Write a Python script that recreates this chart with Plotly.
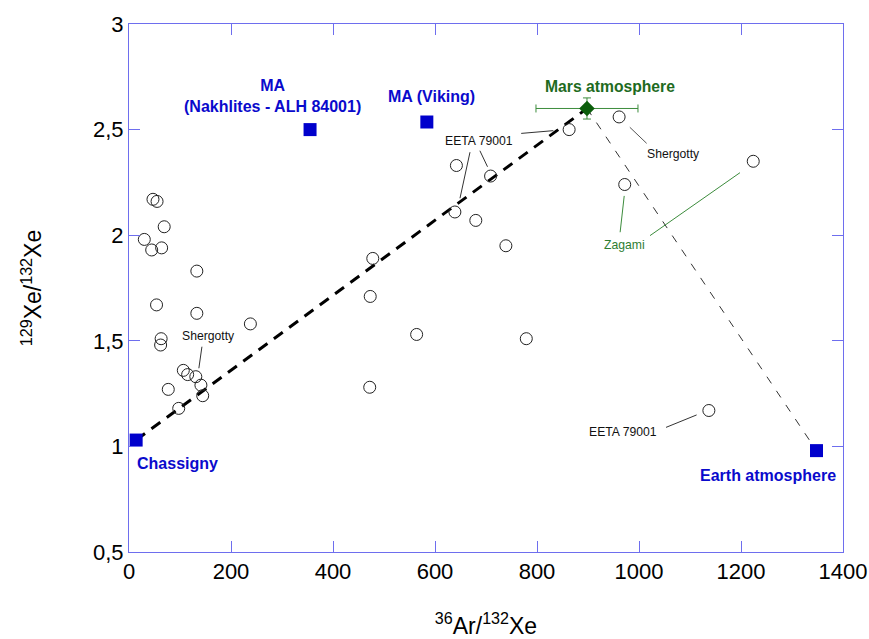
import plotly.graph_objects as go

# ---- data ----
meteorite_x = [47, 55, 69, 30, 44.5, 64, 133, 54, 133, 238, 63, 62, 106.5, 115, 131, 141, 144.5, 77, 97.5,
               863, 642, 709, 639, 680, 739, 478, 473, 564, 779, 472,
               961, 972, 1224, 1137]
meteorite_y = [2.17, 2.16, 2.04, 1.98, 1.93, 1.94, 1.83, 1.67, 1.63, 1.58, 1.51, 1.48, 1.36, 1.34, 1.33, 1.29, 1.24, 1.27, 1.18,
               2.50, 2.33, 2.28, 2.11, 2.07, 1.95, 1.89, 1.71, 1.53, 1.51, 1.28,
               2.56, 2.24, 2.35, 1.17]

ref_names = ["Chassigny", "MA (Nakhlites - ALH 84001)", "MA (Viking)", "Earth atmosphere"]
ref_x = [14, 355, 584, 1348]
ref_y = [1.03, 2.50, 2.536, 0.98]

mars_x = [898]
mars_y = [2.60]
mars_xerr = [100]
mars_yerr = [0.05]

# mixing lines (endpoints: Chassigny -> Mars atmosphere, Mars atmosphere -> Earth atmosphere)
mix1_x = [ref_x[0], mars_x[0]]
mix1_y = [ref_y[0], mars_y[0]]
mix2_x = [mars_x[0], ref_x[3]]
mix2_y = [mars_y[0], ref_y[3]]

# labels (text, x, y, color, size, bold)
label_text = ["Chassigny", "MA<br>(Nakhlites - ALH 84001)", "MA (Viking)", "Earth atmosphere",
              "Mars atmosphere", "Shergotty", "EETA 79001", "Shergotty", "Zagami", "EETA 79001"]
label_x = [96, 282, 594, 1253, 944, 155, 687, 1067, 971, 969]
label_y = [0.917, 2.658, 2.659, 0.86, 2.706, 1.523, 2.447, 2.383, 1.954, 1.07]
label_color = ["#0a0acc", "#0a0acc", "#0a0acc", "#0a0acc", "#1e6b1e",
               "#111111", "#111111", "#111111", "#2e7d32", "#111111"]
label_size = [16, 16, 16, 16, 15.7, 12.2, 12.2, 12.2, 12.2, 12.2]
label_bold = [True, True, True, True, True, False, False, False, False, False]

# leader lines (x0, y0, x1, y1, color)
lead_x0 = [143, 769, 668.6, 688, 982, 971, 1021.6, 1053]
lead_y0 = [1.472, 2.482, 2.393, 2.40, 2.511, 2.186, 1.998, 1.09]
lead_x1 = [137, 832, 649, 703, 1015, 963, 1198, 1113]
lead_y1 = [1.37, 2.495, 2.175, 2.324, 2.435, 2.014, 2.296, 1.149]
lead_color = ["#333333", "#333333", "#333333", "#333333", "#555555", "#3c8c3c", "#3c8c3c", "#333333"]

FONT = "Liberation Sans, Arial, sans-serif"
AXIS_COLOR = "#6e6eee"

fig = go.Figure()

fig.add_trace(go.Scatter(x=mix1_x, y=mix1_y, mode="lines",
                         line=dict(color="black", width=3, dash="11px,8px"), hoverinfo="skip"))
fig.add_trace(go.Scatter(x=mix2_x, y=mix2_y, mode="lines",
                         line=dict(color="#333333", width=1, dash="8px,9px"), hoverinfo="skip"))

fig.add_trace(go.Scatter(x=meteorite_x, y=meteorite_y, mode="markers",
                         marker=dict(symbol="circle-open", size=12, color="#222222", line=dict(width=1))))

fig.add_trace(go.Scatter(x=ref_x, y=ref_y, mode="markers", text=ref_names,
                         marker=dict(symbol="square", size=13, color="#0000cc")))

fig.add_trace(go.Scatter(x=mars_x, y=mars_y, mode="markers",
                         error_x=dict(type="data", array=mars_xerr, color="#3c8c3c", thickness=1, width=4),
                         error_y=dict(type="data", array=mars_yerr, color="#3c8c3c", thickness=1, width=4),
                         marker=dict(symbol="diamond", size=12, color="#0b5e0b")))

for x0, y0, x1, y1, c in zip(lead_x0, lead_y0, lead_x1, lead_y1, lead_color):
    fig.add_shape(type="line", x0=x0, y0=y0, x1=x1, y1=y1, xref="x", yref="y",
                  line=dict(color=c, width=1))

for t, x, y, c, s, b in zip(label_text, label_x, label_y, label_color, label_size, label_bold):
    fig.add_annotation(x=x, y=y, xref="x", yref="y", showarrow=False,
                       text=f"<b>{t}</b>" if b else t,
                       font=dict(family=FONT, size=s, color=c))

axis_common = dict(showline=True, linecolor=AXIS_COLOR, linewidth=1, mirror="ticks",
                   ticks="inside", ticklen=11, tickcolor=AXIS_COLOR, tickwidth=1,
                   showgrid=False, zeroline=False, automargin=False,
                   tickfont=dict(family=FONT, size=22, color="black"))

fig.update_layout(
    width=869, height=639,
    margin=dict(l=129, r=26, t=24, b=87),
    paper_bgcolor="white", plot_bgcolor="white",
    showlegend=False,
    separators=",.",
    font=dict(family=FONT, color="black"),
    xaxis=dict(range=[0, 1400], dtick=200, tick0=0,
               title=dict(text="<sup>36</sup>Ar/<sup>132</sup>Xe", font=dict(family=FONT, size=23), standoff=34),
               **axis_common),
    yaxis=dict(range=[0.5, 3], dtick=0.5, tick0=0.5,
               title=dict(text="<sup>129</sup>Xe/<sup>132</sup>Xe", font=dict(family=FONT, size=23), standoff=44),
               **axis_common),
)

fig.write_html("out.html")
